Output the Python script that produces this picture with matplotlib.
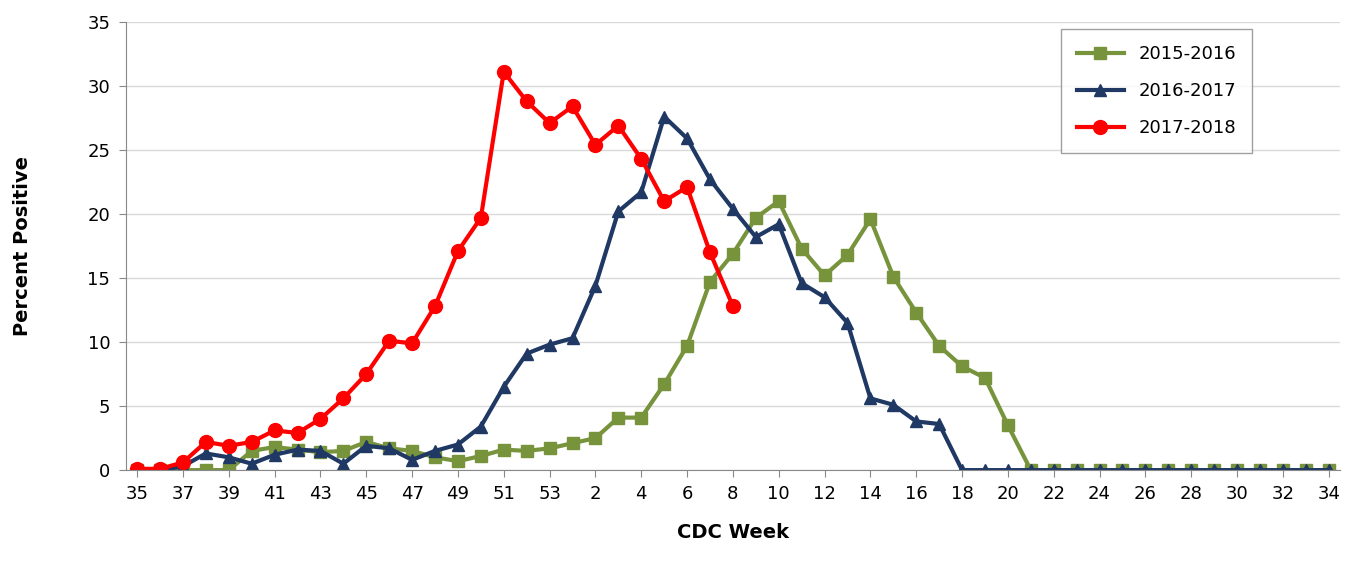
import matplotlib.pyplot as plt
import numpy as np

weeks = list(range(35, 54)) + list(range(1, 35))
tick_labels = [str(w) for w in weeks]

s1516 = [0, 0, 0, 0, 0, 1.5, 1.8, 1.6, 1.4, 1.5, 2.2, 1.7, 1.5, 1.0, 0.7, 1.1, 1.6, 1.5, 1.7,
         2.1, 2.5, 4.1, 4.1, 6.7, 9.7, 14.7, 16.9, 19.7, 21.0, 17.3, 15.2, 16.8, 19.6, 15.1, 12.3,
         9.7, 8.1, 7.2, 3.5] + [0] * 14
s1617 = [0, 0, 0.3, 1.3, 1.0, 0.5, 1.2, 1.6, 1.5, 0.5, 1.9, 1.7, 0.8, 1.5, 2.0, 3.4, 6.5, 9.1, 9.8,
         10.3, 14.4, 20.2, 21.7, 27.6, 25.9, 22.7, 20.4, 18.2, 19.2, 14.6, 13.5, 11.5, 5.6, 5.1,
         3.8, 3.6] + [0] * 17
s1718 = [0.1, 0.1, 0.6, 2.2, 1.9, 2.2, 3.1, 2.9, 4.0, 5.6, 7.5, 10.1, 9.9, 12.8, 17.1, 19.7,
         31.1, 28.8, 27.1, 28.4, 25.4, 26.9, 24.3, 21.0, 22.1, 17.0, 12.8]

fig, ax = plt.subplots(figsize=(13.51, 5.61), dpi=100)
x = np.arange(len(weeks))
ax.plot(x, s1516, color='#77933c', marker='s', markersize=9, lw=3, label='2015-2016')
ax.plot(x, s1617, color='#1f3864', marker='^', markersize=9, lw=3, label='2016-2017')
ax.plot(np.arange(len(s1718)), s1718, color='#ff0000', marker='o', markersize=10, lw=3, label='2017-2018')

ax.set_xlim(-0.5, len(weeks) - 0.5)
ax.set_ylim(0, 35)
ax.set_yticks(range(0, 36, 5))
ax.set_xticks(x[::2])
ax.set_xticklabels(tick_labels[::2])
ax.tick_params(labelsize=13, length=5, color='#888888', pad=6)
ax.yaxis.grid(True, color='#d9d9d9', lw=1)
ax.set_axisbelow(True)
for s in ['top', 'right']:
    ax.spines[s].set_visible(False)
for s in ['left', 'bottom']:
    ax.spines[s].set_color('#888888')
ax.set_xlabel('CDC Week', fontsize=14, fontweight='bold', labelpad=14)
ax.set_ylabel('Percent Positive', fontsize=14, fontweight='bold', labelpad=40)
leg = ax.legend(loc='upper right', fontsize=13, fancybox=False, edgecolor='#888888',
                borderpad=0.9, labelspacing=1.05, handlelength=2.6,
                bbox_to_anchor=(0.935, 1.005))
plt.subplots_adjust(left=0.093, right=0.992, top=0.961, bottom=0.162)
fig.savefig('out.png')
